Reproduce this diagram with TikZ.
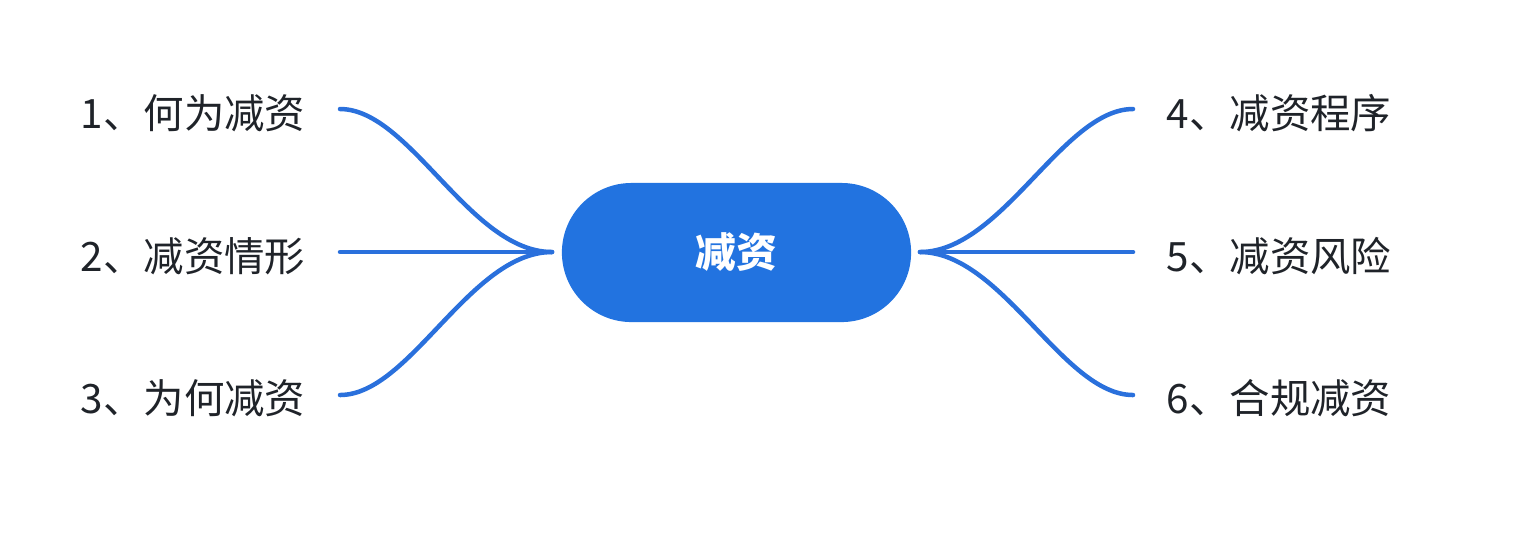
\documentclass[tikz,border=0pt]{standalone}
\usepackage{fontspec}
\setmainfont{Noto Sans CJK SC}
\definecolor{hubblue}{HTML}{2273E0}
\definecolor{branchblue}{HTML}{2A70DC}
\definecolor{labelgray}{HTML}{1F2329}
\tikzset{
  topic/.style={fill=hubblue, text=white, font=\fontsize{11.6pt}{14pt}\selectfont\bfseries,
    minimum width=3.49cm, minimum height=1.39cm, rounded corners=0.695cm, inner sep=0},
  leaf/.style={text=labelgray, font=\fontsize{11.5pt}{14pt}\selectfont, inner sep=0},
  branch/.style={draw=branchblue, line width=0.045cm, line cap=round}
}
\begin{document}
\begin{tikzpicture}[x=0.01cm,y=-0.01cm]
\useasboundingbox (0,0) rectangle (1522,550);
\node[topic] (hub) at (736.5,252.5) {减资};
\coordinate (hl) at (552,252);
\coordinate (hr) at (920,252);
% left
\node[leaf, anchor=west] (t1) at (80,113) {1、何为减资};
\node[leaf, anchor=west] (t2) at (80,256) {2、减资情形};
\node[leaf, anchor=west] (t3) at (80,398) {3、为何减资};
\coordinate (l1) at (340,109);
\coordinate (l2) at (340,252);
\coordinate (l3) at (340,395);
% right
\node[leaf, anchor=west] (t4) at (1166,113) {4、减资程序};
\node[leaf, anchor=west] (t5) at (1166,256) {5、减资风险};
\node[leaf, anchor=west] (t6) at (1166,398) {6、合规减资};
\coordinate (r1) at (1133,109);
\coordinate (r2) at (1133,252);
\coordinate (r3) at (1133,395);
\draw[branch] (l1) .. controls +(70,0) and +(-82,0) .. (hl);
\draw[branch] (l2) -- (hl);
\draw[branch] (l3) .. controls +(70,0) and +(-82,0) .. (hl);
\draw[branch] (hr) .. controls +(82,0) and +(-70,0) .. (r1);
\draw[branch] (hr) -- (r2);
\draw[branch] (hr) .. controls +(82,0) and +(-70,0) .. (r3);
\end{tikzpicture}
\end{document}
